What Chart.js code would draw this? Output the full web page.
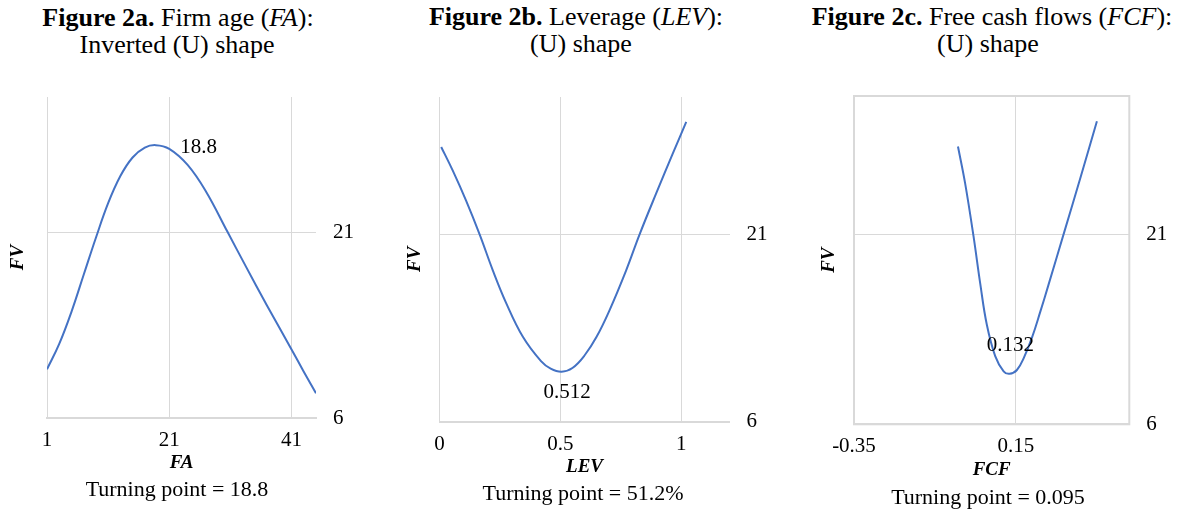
<!DOCTYPE html>
<html>
<head>
<meta charset="utf-8">
<script src="https://cdn.jsdelivr.net/npm/chart.js@4.4.0/dist/chart.umd.min.js"></script>
<style>
  body { margin: 0; background: #fff; width: 1177px; height: 510px; position: relative; overflow: hidden; font-family: "Liberation Serif", serif; color: #000; }
  canvas { position: absolute; top: 0; }
  .t { position: absolute; white-space: nowrap; transform: translate(-50%, -50%); font-size: 26px; line-height: 1; }
  .cap { position: absolute; white-space: nowrap; transform: translate(-50%, -50%); font-size: 22px; line-height: 1; }
</style>
</head>
<body>
<div class="t" style="left:178px;top:18px"><b>Figure 2a.</b> Firm age (<i>FA</i>):</div>
<div class="t" style="left:177px;top:45px">Inverted (U) shape</div>
<div class="t" style="left:576px;top:17px"><b>Figure 2b.</b> Leverage (<i>LEV</i>):</div>
<div class="t" style="left:581px;top:44px">(U) shape</div>
<div class="t" style="left:992px;top:17px"><b>Figure 2c.</b> Free cash flows (<i>FCF</i>):</div>
<div class="t" style="left:988px;top:44px">(U) shape</div>

<canvas id="chartA" width="395" height="510" style="left:0px"></canvas>
<canvas id="chartB" width="395" height="510" style="left:395px"></canvas>
<canvas id="chartC" width="387" height="510" style="left:790px"></canvas>

<div class="cap" style="left:177px;top:489px">Turning point = 18.8</div>
<div class="cap" style="left:583px;top:493px">Turning point = 51.2%</div>
<div class="cap" style="left:988px;top:497px">Turning point = 0.095</div>

<script>
// Figure 2a - firm age
const faX = [1, 3, 5, 7, 9, 11, 13, 15, 17, 18.8, 21, 24, 27, 30.5, 33.5, 37, 41, 43, 45];
const faFV = [9.95, 12.0, 14.6, 17.6, 20.6, 23.4, 25.6, 27.1, 27.9, 28.1, 27.8, 26.5, 24.35, 21.1, 18.3, 15.1, 11.55, 9.75, 8.0];
const faTicks = [1, 21, 41];
const faLabel = ['18.8', 22.8, 27.95];

// Figure 2b - leverage
const levX = [0.007, 0.055, 0.11, 0.166, 0.221, 0.276, 0.345, 0.42, 0.46, 0.505, 0.55, 0.6, 0.65, 0.703, 0.772, 0.828, 0.897, 0.966, 1.021];
const levFV = [28.0, 26.1, 23.7, 21.0, 18.1, 15.5, 12.8, 10.85, 10.25, 10.0, 10.3, 11.3, 12.8, 14.9, 18.1, 21.0, 24.3, 27.5, 30.0];
const levTicks = [0, 0.5, 1];
const levLabel = ['0.512', 0.528, 8.32];

// Figure 2c - free cash flows
const fcfX = [-0.029, -0.007, 0.019, 0.04, 0.06, 0.086, 0.112, 0.13, 0.153, 0.175, 0.2, 0.225, 0.25, 0.3, 0.35, 0.4];
const fcfFV = [28.0, 25.1, 20.9, 17.1, 13.9, 11.4, 10.2, 10.0, 10.3, 11.3, 12.9, 14.9, 17.0, 21.3, 25.6, 30.0];
const fcfTicks = [-0.35, 0.15];
const fcfLabel = ['0.132', 0.1325, 12.28];

const fvTicks = [6, 21];

Chart.defaults.font.family = '"Liberation Serif", serif';
Chart.defaults.color = '#000';

const gridColor = '#d9d9d9';

const valueLabel = {
  id: 'valueLabel',
  afterDatasetsDraw(chart, args, opts) {
    const ctx = chart.ctx;
    ctx.save();
    ctx.font = '21px "Liberation Serif"';
    ctx.fillStyle = '#000';
    ctx.textAlign = opts.align;
    ctx.textBaseline = 'middle';
    ctx.fillText(opts.label[0], chart.scales.x.getPixelForValue(opts.label[1]), chart.scales.y.getPixelForValue(opts.label[2]));
    ctx.restore();
  }
};

// only panel c has the full plot-area frame
const plotBox = {
  id: 'plotBox',
  beforeDatasetsDraw(chart, args, opts) {
    if (!opts.show) return;
    const a = chart.chartArea;
    const ctx = chart.ctx;
    ctx.save();
    ctx.strokeStyle = gridColor;
    ctx.lineWidth = 2;
    ctx.strokeRect(a.left, a.top, a.right - a.left, a.bottom - a.top);
    ctx.restore();
  }
};

function makePanel(id, p) {
  const pts = p.xs.map((x, i) => ({ x: x, y: p.ys[i] }));
  return new Chart(document.getElementById(id), {
    type: 'scatter',
    data: {
      datasets: [{
        data: pts,
        showLine: true,
        borderColor: '#4472C4',
        borderWidth: 2,
        pointRadius: 0,
        tension: 0.4,
        fill: false
      }]
    },
    options: {
      responsive: false,
      animation: false,
      devicePixelRatio: 1,
      layout: { padding: { top: p.top, left: 0, right: 0, bottom: 0 } },
      plugins: {
        legend: { display: false },
        tooltip: { enabled: false },
        valueLabel: { label: p.label, align: p.labelAlign },
        plotBox: { show: p.box }
      },
      scales: {
        x: {
          type: 'linear',
          min: p.xMin,
          max: p.xMax,
          afterBuildTicks: s => { s.ticks = p.xTicks.map(v => ({ value: v })); },
          afterFit: s => { s.height = p.bottomH; },
          ticks: { padding: 10, font: { size: 21 }, maxRotation: 0, autoSkip: false, callback: v => String(v) },
          grid: { color: gridColor, drawTicks: false },
          border: { color: gridColor, width: 2 },
          title: { display: true, text: p.xTitle, font: { size: 19, weight: 'bold', style: 'italic' }, padding: { top: 0, bottom: p.xTitlePad } }
        },
        y: {
          type: 'linear',
          position: 'right',
          min: 6,
          max: 32,
          afterBuildTicks: s => { s.ticks = fvTicks.map(v => ({ value: v })); },
          afterFit: s => { s.width = p.rightW; },
          ticks: { padding: 17, font: { size: 21 }, callback: v => String(v) },
          grid: { color: gridColor, drawTicks: false },
          border: { display: false }
        },
        yl: {
          type: 'linear',
          position: 'left',
          afterFit: s => { s.width = p.leftW; },
          ticks: { display: false },
          grid: { display: false },
          border: { display: false },
          title: { display: true, text: 'FV', font: { size: 19, weight: 'bold', style: 'italic' }, padding: { top: p.fvPad, bottom: 0 } }
        }
      }
    },
    plugins: [valueLabel, plotBox]
  });
}

makePanel('chartA', {
  xs: faX, ys: faFV, xMin: 1, xMax: 45, xTicks: faTicks, xTitle: 'FA',
  label: faLabel, labelAlign: 'left', box: false,
  top: 97, bottomH: 92, leftW: 47, rightW: 79, xTitlePad: 35.3, fvPad: 6.6
});

makePanel('chartB', {
  xs: levX, ys: levFV, xMin: 0, xMax: 1.2, xTicks: levTicks, xTitle: 'LEV',
  label: levLabel, labelAlign: 'center', box: false,
  top: 97, bottomH: 88.3, leftW: 44.5, rightW: 60.5, xTitlePad: 31.3, fvPad: 8.6
});

makePanel('chartC', {
  xs: fcfX, ys: fcfFV, xMin: -0.35, xMax: 0.5, xTicks: fcfTicks, xTitle: 'FCF',
  label: fcfLabel, labelAlign: 'center', box: true,
  top: 96, bottomH: 85.7, leftW: 64, rightW: 47.7, xTitlePad: 28.6, fvPad: 27.6
});
</script>
</body>
</html>
